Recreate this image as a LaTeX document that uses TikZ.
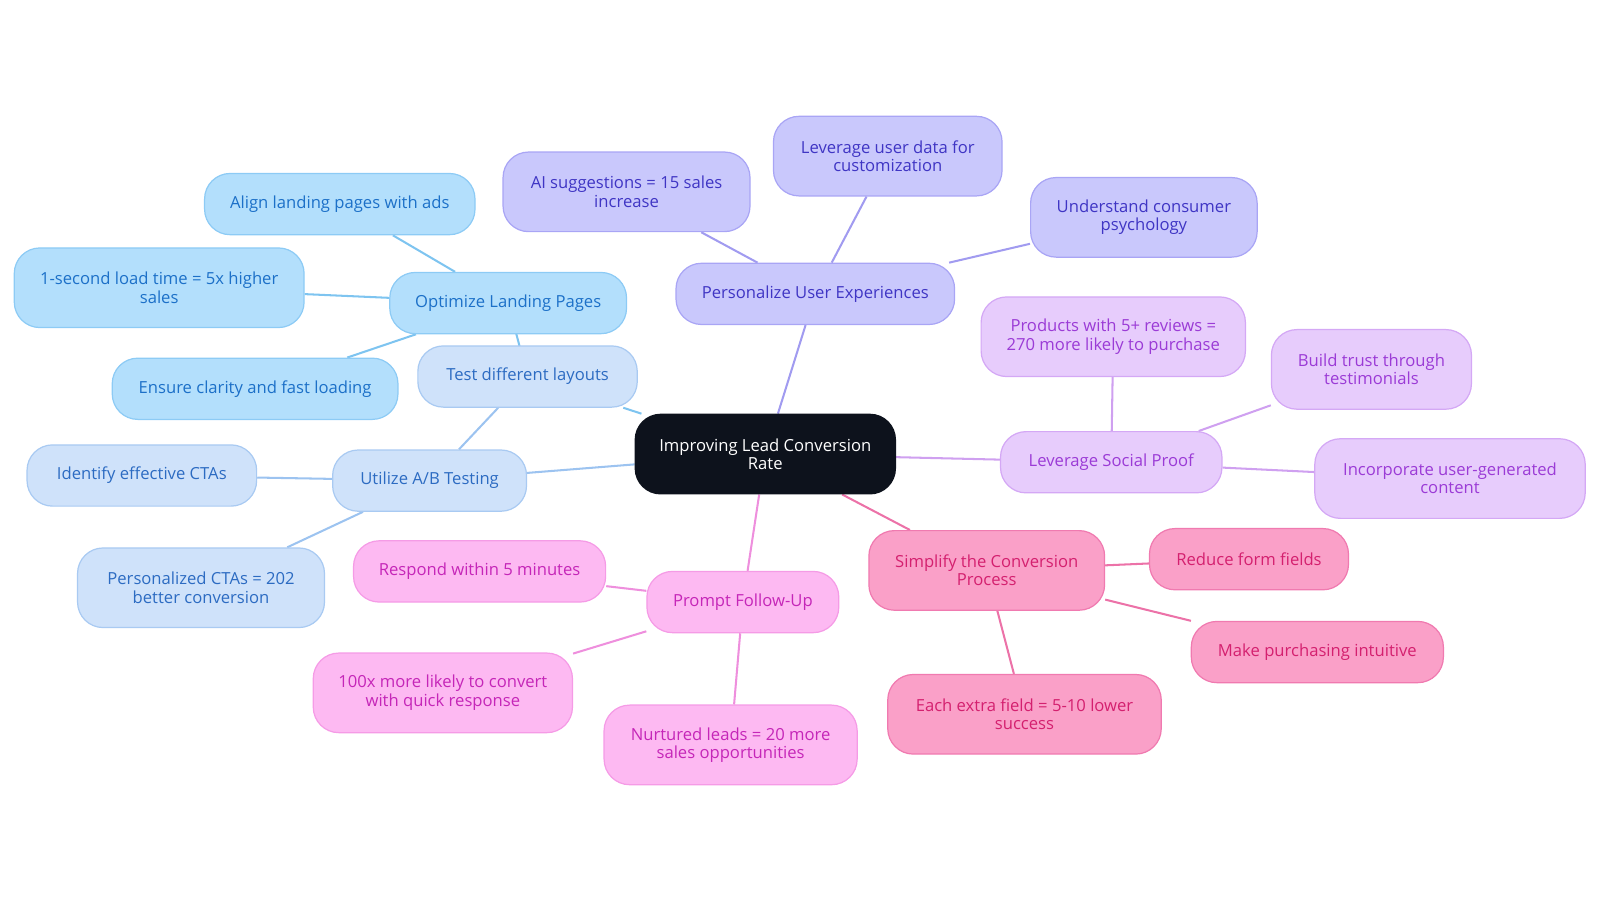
\documentclass[tikz,border=0pt]{standalone}
\usepackage{fontspec}
\setmainfont{Open Sans}
\usetikzlibrary{backgrounds}
\definecolor{bF}{HTML}{B3DFFC}\definecolor{bD}{HTML}{8DCBF5}\definecolor{bT}{HTML}{1C70C8}\definecolor{bL}{HTML}{7EC4F0}
\definecolor{aF}{HTML}{CFE2FA}\definecolor{aD}{HTML}{A9CAF2}\definecolor{aT}{HTML}{2C6BC2}\definecolor{aL}{HTML}{9CC3F0}
\definecolor{iF}{HTML}{C9C8FC}\definecolor{iD}{HTML}{A9A5F5}\definecolor{iT}{HTML}{3F35C4}\definecolor{iL}{HTML}{A19BF0}
\definecolor{vF}{HTML}{E7CCFC}\definecolor{vD}{HTML}{D4A8F5}\definecolor{vT}{HTML}{9B3BD6}\definecolor{vL}{HTML}{CFA0F0}
\definecolor{pF}{HTML}{FDB9F2}\definecolor{pD}{HTML}{F59BE6}\definecolor{pT}{HTML}{C526B8}\definecolor{pL}{HTML}{EE8FDD}
\definecolor{rF}{HTML}{FAA0C8}\definecolor{rD}{HTML}{F07AB0}\definecolor{rT}{HTML}{D4206F}\definecolor{rL}{HTML}{EC72A8}
\definecolor{cF}{HTML}{0D121C}
\begin{document}
\begin{tikzpicture}[x=1pt,y=-1pt,
 box/.style n args={4}{draw=#2,fill=#1,text=#3,line width=1.2pt,rounded corners=25pt,minimum width=#4,align=center,inner sep=2pt,font=\fontsize{16.3}{18}\selectfont},
 s/.style={box={#1F}{#1D}{#1T}{0pt},minimum height=60pt},
 t/.style={box={#1F}{#1D}{#1T}{0pt},minimum height=78pt},
 ln/.style={line width=2pt,draw=#1}]
\useasboundingbox (0,0) rectangle (1568,885);
\node[box={cF}{cF}{white}{255pt},minimum height=78pt] (c) at (750,445) {Improving Lead Conversion\\Rate};
\node[s=b,minimum width=232pt] (olp) at (498,297) {Optimize Landing Pages};
\node[s=b,minimum width=265pt] (b1) at (333,200) {Align landing pages with ads};
\node[t=b,minimum width=284pt] (b2) at (156,282) {1-second load time = 5x higher\\sales};
\node[s=b,minimum width=280pt] (b3) at (250,381) {Ensure clarity and fast loading};
\node[s=a,minimum width=215pt] (a1) at (517,369) {Test different layouts};
\node[s=a,minimum width=190pt] (ab) at (421,471) {Utilize A/B Testing};
\node[s=a,minimum width=225pt] (a2) at (139,466) {Identify effective CTAs};
\node[t=a,minimum width=242pt] (a3) at (197,576) {Personalized CTAs = 202\\better conversion};
\node[s=i,minimum width=273pt] (pu) at (799,288) {Personalize User Experiences};
\node[t=i,minimum width=242pt] (i1) at (614,188) {AI suggestions = 15 sales\\increase};
\node[t=i,minimum width=224pt] (i2) at (870,153) {Leverage user data for\\customization};
\node[t=i,minimum width=222pt] (i3) at (1121,213) {Understand consumer\\psychology};
\node[s=v,minimum width=217pt] (sp) at (1089,453) {Leverage Social Proof};
\node[t=v,minimum width=259pt] (v1) at (1091,330) {Products with 5+ reviews =\\270 more likely to purchase};
\node[t=v,minimum width=196pt] (v2) at (1344,362) {Build trust through\\testimonials};
\node[t=v,minimum width=265pt] (v3) at (1421,469) {Incorporate user-generated\\content};
\node[t=r,minimum width=231pt] (sc) at (967,559) {Simplify the Conversion\\Process};
\node[s=r,minimum width=195pt] (r1) at (1224,548) {Reduce form fields};
\node[s=r,minimum width=247pt] (r2) at (1291,639) {Make purchasing intuitive};
\node[t=r,minimum width=268pt] (r3) at (1004,700) {Each extra field = 5-10 lower\\success};
\node[s=p,minimum width=188pt] (pf) at (728,590) {Prompt Follow-Up};
\node[s=p,minimum width=247pt] (p1) at (470,560) {Respond within 5 minutes};
\node[t=p,minimum width=254pt] (p2) at (434,679) {100x more likely to convert\\with quick response};
\node[t=p,minimum width=248pt] (p3) at (716,730) {Nurtured leads = 20 more\\sales opportunities};
\begin{scope}[on background layer]
\draw[ln=bL] (c)--(a1) (olp)--(b1) (olp)--(b2) (olp)--(b3) (olp.center)--(a1.center);
\draw[ln=aL] (c)--(ab) (ab)--(a1) (ab)--(a2) (ab)--(a3);
\draw[ln=iL] (c)--(pu) (pu)--(i1) (pu)--(i2) (pu)--(i3);
\draw[ln=vL] (c)--(sp) (sp)--(v1) (sp)--(v2) (sp)--(v3);
\draw[ln=rL] (c)--(sc) (sc)--(r1) (sc)--(r2) (sc)--(r3);
\draw[ln=pL] (c)--(pf) (pf)--(p1) (pf)--(p2) (pf)--(p3);
\end{scope}
\end{tikzpicture}
\end{document}
